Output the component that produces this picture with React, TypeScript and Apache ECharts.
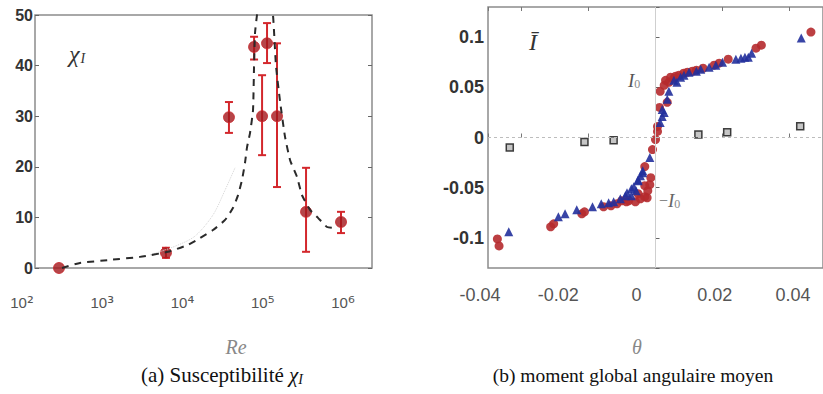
import React, { useEffect, useRef } from "react";
import * as echarts from "echarts";

// ---- Panel (a): susceptibility vs Re ----
const chiRe = [289, 6220, 37900, 77900, 98000, 113000, 150500, 346000, 944000];
const chiVal = [0, 3.0, 29.8, 43.7, 30, 44.4, 30, 11.1, 9.1];
const chiLow = [0, 2.0, 26.7, 41.2, 22.3, 40.5, 16.0, 3.2, 6.9];
const chiHigh = [0, 4.0, 32.8, 45.7, 38.1, 48.4, 44.4, 19.8, 11.1];

const curveRe = [315, 528, 1250, 2950, 6590, 11400, 16500, 24000, 33900, 42600, 49200, 55100, 60100, 63700, 69400, 75600, 77800, 80000, 84700, 106700, 134000, 146000, 164000, 189000, 219000, 267000, 308000, 388000, 488000, 632000, 773000];
const curveChi = [0, 1.0, 1.6, 2.2, 3.2, 4.5, 5.9, 7.5, 9.5, 11.9, 14.4, 17.4, 20.8, 23.9, 26.7, 31.2, 39.7, 46.4, 50, 62, 50, 40, 33, 26, 21.3, 18, 14.4, 11.5, 9.9, 8.1, 7.9];

const faintRe = [3940, 8070, 14300, 24000, 33900, 45100];
const faintChi = [2.6, 4.3, 6.3, 10.5, 15.4, 19.8];

const reTicks = [100, 1000, 10000, 100000, 1000000];
const chiTicks = [0, 10, 20, 30, 40, 50];

// ---- Panel (b): mean global angular moment vs theta ----
const redPts: number[][] = [
  [-0.0472, -0.101], [-0.0467, -0.108], [-0.0313, -0.089], [-0.0304, -0.086], [-0.022, -0.076],
  [-0.0212, -0.074], [-0.0155, -0.069], [-0.0133, -0.068], [-0.0115, -0.066], [-0.0101, -0.063],
  [-0.0087, -0.064], [-0.008, -0.063], [-0.006, -0.064], [-0.0045, -0.061], [-0.0025, -0.060],
  [-0.0052, -0.056], [-0.0032, -0.059], [-0.0023, -0.053], [-0.0032, -0.048], [-0.0017, -0.047],
  [-0.0014, -0.040], [-0.0032, -0.029], [-0.0009, -0.012], [0, -0.002], [0.0006, 0.006],
  [0.0006, 0.011], [0.0012, 0.030], [0.0035, 0.035], [0.0014, 0.046], [0.0026, 0.052],
  [0.003, 0.057], [0.004, 0.055], [0.0045, 0.060], [0.0055, 0.059], [0.006, 0.061],
  [0.007, 0.062], [0.0084, 0.064], [0.0095, 0.065], [0.011, 0.066], [0.0122, 0.067],
  [0.0142, 0.069], [0.0175, 0.072], [0.019, 0.074], [0.0217, 0.078], [0.030, 0.089],
  [0.0316, 0.092], [0.0464, 0.105],
];
const bluePts: number[][] = [
  [-0.0438, -0.094], [-0.029, -0.079], [-0.027, -0.076], [-0.0235, -0.072], [-0.0188, -0.069],
  [-0.0162, -0.066], [-0.014, -0.065], [-0.0125, -0.064], [-0.0105, -0.061], [-0.0085, -0.055],
  [-0.0072, -0.058], [-0.0058, -0.053], [-0.009, -0.058], [-0.0072, -0.051], [-0.0065, -0.049],
  [-0.0052, -0.043], [-0.0052, -0.042], [-0.0045, -0.038], [-0.0038, -0.035], [-0.0038, -0.033],
  [-0.0017, -0.020], [0.0014, 0.015], [0.002, 0.021], [0.0026, 0.025], [0.002, 0.028],
  [0.0035, 0.038], [0.004, 0.046], [0.0055, 0.057], [0.0064, 0.055], [0.0075, 0.060],
  [0.0085, 0.062], [0.010, 0.065], [0.0122, 0.066], [0.0135, 0.068], [0.016, 0.070],
  [0.018, 0.072], [0.020, 0.075], [0.024, 0.078], [0.0255, 0.079], [0.0267, 0.080],
  [0.0277, 0.080], [0.0287, 0.084], [0.0435, 0.099],
];
const blackPts: number[][] = [
  [-0.0435, -0.0099], [-0.0212, -0.0046], [-0.0125, -0.0027], [0.0128, 0.003], [0.0214, 0.0052], [0.0432, 0.0112],
];
const thetaTicks = [-0.04, -0.02, 0, 0.02, 0.04];

const sup: Record<number, string> = { 2: "²", 3: "³", 4: "⁴", 5: "⁵", 6: "⁶" };

export default function App() {
  const ref = useRef<HTMLDivElement>(null);
  useEffect(() => {
    if (!ref.current) return;
    const chart = echarts.init(ref.current, null, { renderer: "svg" });
    const sans = "Liberation Sans, Arial, DejaVu Sans, sans-serif";
    const serif = "Liberation Serif, DejaVu Serif, serif";
    const errStyle = { stroke: "#d3272c", lineWidth: 2 };
    const option: any = {
      animation: false,
      backgroundColor: "#ffffff",
      grid: [
        { left: 35, top: 15, width: 337, height: 253, show: true, borderColor: "#8c8c8c", borderWidth: 1.5, backgroundColor: "transparent" },
        { left: 22, top: 285, width: 321, height: 5 },
        { left: 488, top: 7, width: 345, height: 261, show: true, borderColor: "#8c8c8c", borderWidth: 1.5, backgroundColor: "transparent" },
        { left: 480, top: 278, width: 313, height: 5 },
      ],
      xAxis: [
        { type: "log", gridIndex: 0, min: 145.2, max: 2.296e6, axisLine: { show: false }, axisTick: { show: false }, axisLabel: { show: false }, splitLine: { show: false } },
        {
          type: "log", gridIndex: 1, min: reTicks[0], max: reTicks[reTicks.length - 1],
          axisLine: { show: false }, axisTick: { show: false }, splitLine: { show: false },
          axisLabel: {
            margin: 4, color: "#555",
            formatter: (v: number) => "{b|10}{s|" + (sup[Math.round(Math.log10(v))] || "") + "}",
            rich: {
              b: { fontSize: 15, fontFamily: sans, color: "#555" },
              s: { fontSize: 17, fontFamily: "DejaVu Sans, sans-serif", color: "#555" },
            },
          },
        },
        { type: "value", gridIndex: 2, min: -0.05, max: 0.05, axisLine: { show: false }, axisTick: { show: true, inside: true, length: 4, lineStyle: { color: "#777" } }, axisLabel: { show: false }, splitLine: { show: false } },
        { type: "value", gridIndex: 2, position: "top", min: -0.05, max: 0.05, axisLine: { show: false }, axisTick: { show: true, inside: true, length: 4, lineStyle: { color: "#777" } }, axisLabel: { show: false }, splitLine: { show: false } },
        {
          type: "value", gridIndex: 3, min: thetaTicks[0], max: thetaTicks[thetaTicks.length - 1], interval: 0.02,
          axisLine: { show: false }, axisTick: { show: false }, splitLine: { show: false },
          axisLabel: { margin: 3, fontSize: 18, color: "#555", fontFamily: sans, formatter: (v: number) => String(+v.toFixed(2)) },
        },
      ],
      yAxis: [
        {
          type: "value", gridIndex: 0, min: chiTicks[0], max: chiTicks[chiTicks.length - 1], interval: 10,
          axisLine: { show: false }, axisTick: { show: true, inside: true, length: 4, lineStyle: { color: "#666" } }, splitLine: { show: false },
          axisLabel: { margin: 2, fontSize: 16, fontWeight: "bold", color: "#333", fontFamily: sans },
        },
        { type: "value", gridIndex: 0, position: "right", min: 0, max: 50, interval: 10, axisLine: { show: false }, axisTick: { show: true, inside: true, length: 4, lineStyle: { color: "#666" } }, axisLabel: { show: false }, splitLine: { show: false } },
        { type: "value", gridIndex: 1, show: false },
        {
          type: "value", gridIndex: 2, min: -0.13, max: 0.13,
          axisLine: { show: false }, axisTick: { show: true, inside: true, length: 4, lineStyle: { color: "#666" } }, splitLine: { show: false },
          axisLabel: { margin: 4, fontSize: 18, fontWeight: "bold", color: "#333", fontFamily: sans, formatter: (v: number) => (Math.abs(v) > 0.11 ? "" : String(+v.toFixed(2))) },
        },
        { type: "value", gridIndex: 3, show: false },
      ],
      series: [
        {
          type: "line", xAxisIndex: 0, yAxisIndex: 0, data: faintRe.map((r, i) => [r, faintChi[i]]),
          symbol: "none", smooth: 0.3, lineStyle: { color: "#d4d4d4", width: 1, type: "dotted" }, silent: true,
        },
        {
          type: "line", xAxisIndex: 0, yAxisIndex: 0, data: curveRe.map((r, i) => [r, curveChi[i]]),
          symbol: "none", smooth: 0.15, clip: true, lineStyle: { color: "#2a2a2a", width: 2, type: [7, 6] }, silent: true,
        },
        {
          type: "custom", xAxisIndex: 0, yAxisIndex: 0,
          data: chiRe.map((r, i) => [r, chiLow[i], chiHigh[i]]),
          encode: { x: 0, y: [1, 2] },
          renderItem: (params: any, api: any) => {
            const x = api.value(0), lo = api.value(1), hi = api.value(2);
            if (lo === hi) return null;
            const t = api.coord([x, hi]);
            const b = api.coord([x, lo]);
            const w = 4;
            return {
              type: "group",
              children: [
                { type: "line", shape: { x1: t[0], y1: t[1], x2: b[0], y2: b[1] }, style: errStyle },
                { type: "line", shape: { x1: t[0] - w, y1: t[1], x2: t[0] + w, y2: t[1] }, style: errStyle },
                { type: "line", shape: { x1: b[0] - w, y1: b[1], x2: b[0] + w, y2: b[1] }, style: errStyle },
              ],
            };
          },
        },
        {
          type: "scatter", xAxisIndex: 0, yAxisIndex: 0, data: chiRe.map((r, i) => [r, chiVal[i]]),
          symbol: "circle", symbolSize: 11, itemStyle: { color: "#a3171b", borderColor: "#c8262b", borderWidth: 1 },
        },
        {
          type: "scatter", xAxisIndex: 2, yAxisIndex: 3, data: blackPts,
          symbol: "rect", symbolSize: 7, itemStyle: { color: "#b8b8b8", borderColor: "#111", borderWidth: 1.5 },
          markLine: {
            silent: true, symbol: "none", label: { show: false },
            data: [
              { xAxis: 0, lineStyle: { color: "#cfcfcf", width: 1, type: "solid" } },
              { yAxis: 0, lineStyle: { color: "#bdbdbd", width: 1, type: [3, 3] } },
            ],
          },
        },
        {
          type: "scatter", xAxisIndex: 2, yAxisIndex: 3, data: redPts,
          symbol: "circle", symbolSize: 9, itemStyle: { color: "#b52a2e", opacity: 0.9 },
        },
        {
          type: "scatter", xAxisIndex: 2, yAxisIndex: 3, data: bluePts,
          symbol: "triangle", symbolSize: 9, itemStyle: { color: "#22309c", opacity: 0.9 },
        },
      ],
      graphic: [
        {
          type: "text", x: 69, y: 54,
          style: {
            text: "{a|χ}{b|I}", textVerticalAlign: "middle",
            rich: {
              a: { fontFamily: serif, fontStyle: "italic", fontSize: 24, fill: "#333" },
              b: { fontFamily: serif, fontStyle: "italic", fontSize: 14, fill: "#333", padding: [8, 0, 0, 1] },
            },
          },
        },
        { type: "text", x: 533, y: 42, style: { text: "Ī", fontFamily: serif, fontStyle: "italic", fontSize: 24, fill: "#333", textAlign: "center", textVerticalAlign: "middle" } },
        {
          type: "text", x: 628, y: 80,
          style: {
            text: "{a|I}{b|0}", textVerticalAlign: "middle",
            rich: {
              a: { fontFamily: serif, fontStyle: "italic", fontSize: 19, fill: "#555" },
              b: { fontFamily: serif, fontSize: 12, fill: "#888", padding: [8, 0, 0, 0] },
            },
          },
        },
        {
          type: "text", x: 659, y: 200,
          style: {
            text: "{c|−}{a|I}{b|0}", textVerticalAlign: "middle",
            rich: {
              c: { fontFamily: serif, fontSize: 16, fill: "#777" },
              a: { fontFamily: serif, fontStyle: "italic", fontSize: 19, fill: "#666" },
              b: { fontFamily: serif, fontSize: 12, fill: "#888", padding: [8, 0, 0, 0] },
            },
          },
        },
        { type: "text", x: 236, y: 347, style: { text: "Re", fontFamily: serif, fontStyle: "italic", fontSize: 20, fill: "#888", textAlign: "center", textVerticalAlign: "middle" } },
        { type: "text", x: 637, y: 347, style: { text: "θ", fontFamily: serif, fontStyle: "italic", fontSize: 20, fill: "#888", textAlign: "center", textVerticalAlign: "middle" } },
        {
          type: "text", x: 222, y: 375,
          style: {
            text: "{a|(a) Susceptibilité }{g|χ}{s|I}", textAlign: "center", textVerticalAlign: "middle",
            rich: {
              a: { fontFamily: serif, fontSize: 21, fill: "#111" },
              g: { fontFamily: serif, fontStyle: "italic", fontSize: 21, fill: "#111" },
              s: { fontFamily: serif, fontStyle: "italic", fontSize: 14, fill: "#111", padding: [8, 0, 0, 0] },
            },
          },
        },
        { type: "text", x: 633, y: 375, style: { text: "(b) moment global angulaire moyen", fontFamily: serif, fontSize: 19.5, fill: "#111", textAlign: "center", textVerticalAlign: "middle" } },
      ],
    };
    chart.setOption(option);
    return () => chart.dispose();
  }, []);
  return <div ref={ref} style={{ position: "fixed", left: 0, top: 0, width: 823, height: 394, background: "#fff" }} />;
}
